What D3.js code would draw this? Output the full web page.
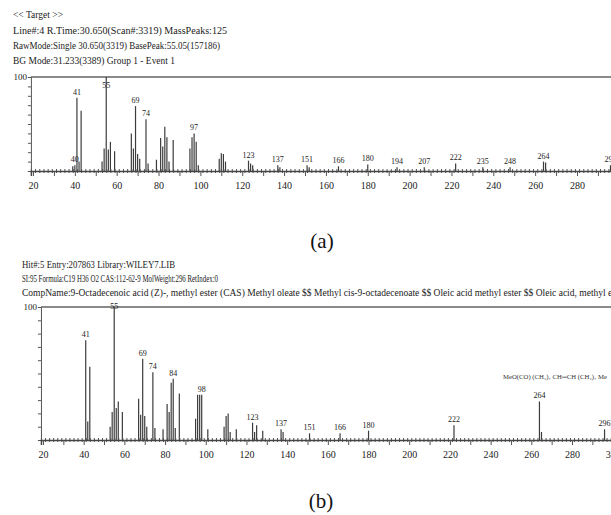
<!DOCTYPE html>
<meta charset=utf-8>
<script src="https://cdn.jsdelivr.net/npm/d3@7/dist/d3.min.js"></script>
<style>
body { margin: 0; background: white }
svg { display: block; font-family: "Liberation Serif", "Times New Roman", serif }
</style>
<body>
<svg id=chart width=611 height=515></svg>
<script>
// (a) target spectrum
const topMz  = [39, 40, 41, 42, 43, 53, 54, 55, 56, 57, 59, 67, 68, 69, 70, 71, 74, 75, 79, 81, 82, 83, 84, 85, 87, 95, 96, 97, 98, 99, 109, 110, 111, 112, 123, 124, 125, 137, 138, 151, 152, 166, 180, 194, 207, 222, 235, 248, 264, 265, 296];
const topInt = [5, 6, 78, 10, 64, 10, 24, 100, 23, 31, 21, 40, 24, 69, 18, 13, 55, 8, 12, 35, 26, 47, 36, 10, 33, 24, 36, 40, 31, 6, 13, 19, 18, 10, 11, 8, 6, 6, 4, 6, 4, 5, 7, 4, 4, 8, 4, 4, 10, 9, 6];
const topLabels = [40, 41, 55, 69, 74, 97, 123, 137, 151, 166, 180, 194, 207, 222, 235, 248, 264, 296];
const topHeader = [
	"<< Target >>",
	"Line#:4   R.Time:30.650(Scan#:3319)   MassPeaks:125",
	"RawMode:Single 30.650(3319)   BasePeak:55.05(157186)",
	"BG Mode:31.233(3389)   Group 1 - Event 1"
];

// (b) library hit
const botMz  = [41, 42, 43, 53, 54, 55, 56, 57, 59, 67, 68, 69, 70, 71, 74, 75, 79, 81, 82, 83, 84, 85, 87, 95, 96, 97, 98, 101, 109, 110, 111, 112, 115, 123, 124, 125, 128, 137, 138, 151, 166, 180, 222, 264, 265, 296];
const botInt = [75, 14, 55, 10, 21, 100, 24, 29, 21, 31, 19, 61, 18, 10, 51, 9, 8, 27, 21, 43, 46, 9, 35, 16, 34, 34, 34, 8, 10, 18, 20, 6, 8, 13, 6, 11, 7, 8, 6, 5, 5, 7, 11, 29, 6, 8];
const botLabels = [41, 55, 69, 74, 84, 98, 123, 137, 151, 166, 180, 222, 264, 296];
const botHeader = [
	"Hit#:5   Entry:207863   Library:WILEY7.LIB",
	"SI:95   Formula:C19 H36 O2   CAS:112-62-9   MolWeight:296   RetIndex:0",
	"CompName:9-Octadecenoic acid (Z)-, methyl ester (CAS) Methyl oleate $$ Methyl cis-9-octadecenoate $$ Oleic acid methyl ester $$ Oleic acid, methyl ester"
];

const xTicks = d3.range(20, 301, 20);
const svg = d3.select("#chart");

function panel(o) {
	const g = svg.append("g");
	const x = d3.scaleLinear().domain([20, 280]).range(o.xr);
	const y = d3.scaleLinear().domain([0, 100]).range(o.yr);
	const xa = x.copy().domain([19, 300]).range([x(19), x(300)]);

	// header lines
	g.selectAll("text.hdr")
		.data(o.header)
		.join("text")
			.attr("class", "hdr")
			.attr("x", o.hx)
			.attr("y", (d, i) => o.hy[i])
			.attr("font-size", 10)
			.attr("fill", "#222")
			.attr("textLength", (d, i) => o.hw[i])
			.attr("lengthAdjust", "spacingAndGlyphs")
			.text(d => d);

	// top frame line
	g.append("line")
		.attr("x1", x(19)).attr("x2", 611)
		.attr("y1", y(100)).attr("y2", y(100))
		.attr("stroke", "#8a8a8a").attr("stroke-width", 2);

	// y axis
	g.append("g")
		.attr("transform", `translate(${x(19)},0)`)
		.call(d3.axisLeft(y).tickValues(d3.range(0, 101, 10)).tickSize(3).tickPadding(1)
			.tickFormat(d => d === 100 ? "100" : ""))
		.attr("font-family", null)
		.attr("font-size", 9)
		.call(a => a.selectAll("path,line").attr("stroke", "#555"))
		.call(a => a.selectAll("text").attr("fill", "#222"));

	// peaks
	g.append("g")
		.attr("stroke", "#3c3c3c")
		.attr("stroke-width", 1.2)
		.selectAll("line")
		.data(o.mz)
		.join("line")
			.attr("x1", d => x(d)).attr("x2", d => x(d))
			.attr("y1", y(0))
			.attr("y2", (d, i) => y(o.inten[i]));

	// peak labels
	g.append("g")
		.attr("font-size", 8)
		.attr("text-anchor", "middle")
		.attr("fill", "#222")
		.selectAll("text")
		.data(o.labels)
		.join("text")
			.attr("x", d => x(d))
			.attr("y", d => Math.max(y(o.inten[o.mz.indexOf(d)]) - 3, y(100) + o.clamp))
			.text(d => d);

	// x axis: minor ticks on both sides, major every 10 below
	g.append("g")
		.attr("transform", `translate(0,${y(0)})`)
		.call(d3.axisTop(xa).tickValues(d3.range(19, 301, 2)).tickSize(2).tickFormat(""))
		.call(a => a.selectAll("path,line").attr("stroke", "#555"));
	g.append("g")
		.attr("transform", `translate(0,${y(0)})`)
		.call(d3.axisBottom(xa).tickValues(d3.range(19, 301, 2)).tickSize(2).tickFormat(""))
		.call(a => a.selectAll("path,line").attr("stroke", "#555"));
	g.append("g")
		.attr("transform", `translate(0,${y(0)})`)
		.call(d3.axisBottom(xa).tickValues(d3.range(20, 301, 10)).tickSize(5).tickPadding(6)
			.tickFormat(d => xTicks.includes(d) ? d : ""))
		.attr("font-family", null)
		.attr("font-size", 10)
		.call(a => a.select(".domain").attr("stroke", "#444").attr("stroke-width", 1.5))
		.call(a => a.selectAll("line").attr("stroke", "#555"))
		.call(a => a.selectAll("text").attr("fill", "#222"));

	// caption
	g.append("text")
		.attr("x", o.cap[0]).attr("y", o.cap[1])
		.attr("text-anchor", "middle")
		.attr("font-size", 21)
		.attr("fill", "#111")
		.text(o.capText);
	return {x, y};
}

panel({
	header: topHeader, hx: 13, hy: [18, 34, 49, 64], hw: [50, 214, 207, 162],
	mz: topMz, inten: topInt, labels: topLabels, clamp: 11,
	xr: [33, 577], yr: [171, 77], cap: [322, 248], capText: "(a)"
});

const b = panel({
	header: botHeader, hx: 22, hy: [268, 282, 296], hw: [153, 196, 604],
	mz: botMz, inten: botInt, labels: botLabels, clamp: 2,
	xr: [43, 572], yr: [440, 307], cap: [321, 508], capText: "(b)"
});

// structure annotation
svg.append("text")
	.attr("x", 503).attr("y", 379)
	.attr("font-size", 5.5)
	.attr("fill", "#333")
	.attr("textLength", 104)
	.attr("lengthAdjust", "spacingAndGlyphs")
	.text("MeO(CO) (CH\u2082)\u2087 CH\u2550CH (CH\u2082)\u2087 Me");
</script>
</body>
